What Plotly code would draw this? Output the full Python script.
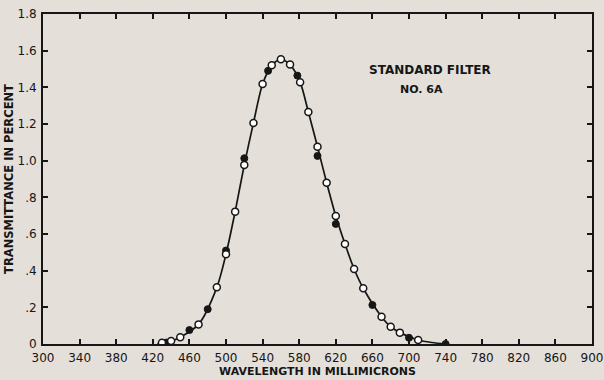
import plotly.graph_objects as go

# Open-circle measurements
open_wl = [430, 440, 450, 470, 490, 500, 510, 520, 530, 540, 550, 560, 570, 581,
           590, 600, 610, 620, 630, 640, 650, 670, 680, 690, 710]
open_T = [0.007, 0.016, 0.037, 0.107, 0.309, 0.49, 0.722, 0.977, 1.206, 1.418, 1.52,
          1.553, 1.524, 1.428, 1.266, 1.076, 0.88, 0.698, 0.546, 0.409, 0.304, 0.149,
          0.094, 0.062, 0.022]

# Filled-circle measurements
filled_wl = [435, 460, 480, 500, 520, 546, 578, 600, 620, 660, 700, 740]
filled_T = [0.008, 0.076, 0.19, 0.51, 1.013, 1.49, 1.464, 1.026, 0.655, 0.213, 0.034, 0.0]

# Smooth curve drawn through the measurements
curve_wl = [425] + open_wl + [725, 740]
curve_T = [0.0] + open_T + [0.008, 0.0]

x_ticks = list(range(300, 901, 40))
y_tickvals = [0, 0.2, 0.4, 0.6, 0.8, 1.0, 1.2, 1.4, 1.6, 1.8]
y_ticktext = ["0", ".2", ".4", ".6", ".8", "1.0", "1.2", "1.4", "1.6", "1.8"]

bg = "#e4dfd8"
ink = "#161616"
font_fam = "DejaVu Sans, Arial, sans-serif"

fig = go.Figure()
fig.add_trace(go.Scatter(x=curve_wl, y=curve_T, mode="lines",
                         line=dict(color=ink, width=1.7, shape="spline", smoothing=0.8),
                         hoverinfo="skip", showlegend=False))
fig.add_trace(go.Scatter(x=filled_wl, y=filled_T, mode="markers",
                         marker=dict(symbol="circle", size=7, color=ink,
                                     line=dict(color=ink, width=1)),
                         showlegend=False))
fig.add_trace(go.Scatter(x=open_wl, y=open_T, mode="markers",
                         marker=dict(symbol="circle", size=7, color="white",
                                     line=dict(color=ink, width=1.5)),
                         showlegend=False))

axis_common = dict(showgrid=False, zeroline=False, showline=True, linecolor=ink,
                   linewidth=2, mirror="ticks", ticks="inside", ticklen=5,
                   tickwidth=1.5, tickcolor=ink, automargin=False,
                   tickfont=dict(family=font_fam, size=12, color=ink))

fig.update_xaxes(range=[300, 900], tickvals=x_ticks, ticklabelstandoff=2, **axis_common,
                 title=dict(text="<b>WAVELENGTH IN MILLIMICRONS</b>",
                            font=dict(family=font_fam, size=11, color=ink), standoff=1))
fig.update_yaxes(range=[0, 1.8], tickvals=y_tickvals, ticktext=y_ticktext,
                 ticklabelstandoff=2, **axis_common,
                 title=dict(text="<b>TRANSMITTANCE IN PERCENT</b>",
                            font=dict(family=font_fam, size=11.5, color=ink), standoff=1))

fig.add_annotation(x=723, y=1.495, xref="x", yref="y", text="<b>STANDARD FILTER</b>",
                   showarrow=False, font=dict(family=font_fam, size=12, color=ink))
fig.add_annotation(x=714, y=1.386, xref="x", yref="y", text="<b>NO. 6A</b>",
                   showarrow=False, font=dict(family=font_fam, size=11, color=ink))

fig.update_layout(width=604, height=380, paper_bgcolor=bg, plot_bgcolor=bg,
                  margin=dict(l=43, r=12, t=14, b=36),
                  font=dict(family=font_fam, color=ink))

fig.write_html("out.html", config={"displayModeBar": False},
               post_script="document.body.style.margin='0';"
                           "document.body.style.background='%s';" % bg)
